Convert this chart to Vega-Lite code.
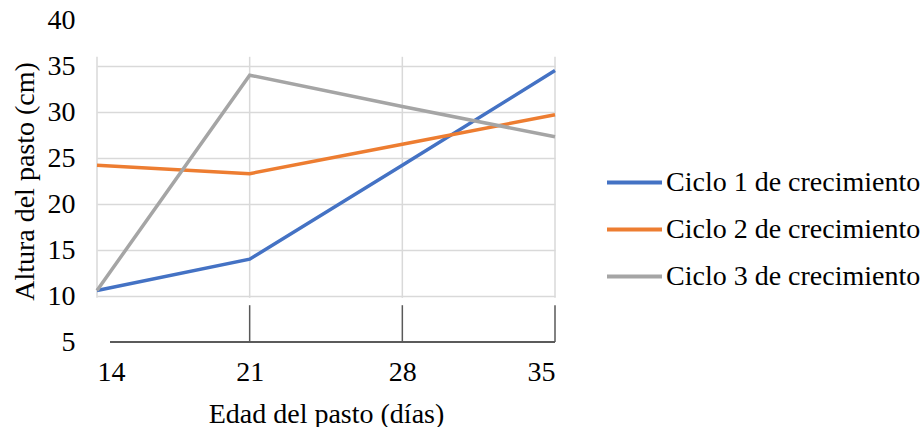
{
  "$schema": "https://vega.github.io/schema/vega-lite/v6.json",
  "width": 458,
  "height": 322,
  "autosize": {"type": "none"},
  "padding": {"left": 97, "top": 20, "right": 369, "bottom": 85},
  "background": "white",
  "config": {
    "font": "Liberation Serif",
    "view": {"stroke": null},
    "axis": {"labelFont": "Liberation Serif", "titleFont": "Liberation Serif", "labelFontSize": 28, "titleFontSize": 28, "titleFontWeight": "normal", "labelColor": "#000000", "titleColor": "#000000"}
  },
  "datasets": {
    "series": [
      {"dia": 14, "altura": 10.6, "ciclo": "Ciclo 1 de crecimiento"},
      {"dia": 21, "altura": 14.0, "ciclo": "Ciclo 1 de crecimiento"},
      {"dia": 28, "altura": 24.2, "ciclo": "Ciclo 1 de crecimiento"},
      {"dia": 35, "altura": 34.5, "ciclo": "Ciclo 1 de crecimiento"},
      {"dia": 14, "altura": 24.2, "ciclo": "Ciclo 2 de crecimiento"},
      {"dia": 21, "altura": 23.3, "ciclo": "Ciclo 2 de crecimiento"},
      {"dia": 28, "altura": 26.5, "ciclo": "Ciclo 2 de crecimiento"},
      {"dia": 35, "altura": 29.7, "ciclo": "Ciclo 2 de crecimiento"},
      {"dia": 14, "altura": 10.6, "ciclo": "Ciclo 3 de crecimiento"},
      {"dia": 21, "altura": 34.0, "ciclo": "Ciclo 3 de crecimiento"},
      {"dia": 28, "altura": 30.6, "ciclo": "Ciclo 3 de crecimiento"},
      {"dia": 35, "altura": 27.3, "ciclo": "Ciclo 3 de crecimiento"}
    ],
    "cortes": [{"dia": 14}, {"dia": 21}, {"dia": 28}, {"dia": 35}],
    "marcas": [{"dia": 21}, {"dia": 28}, {"dia": 35}]
  },
  "layer": [
    {
      "data": {"name": "cortes"},
      "mark": {"type": "rule", "color": "#d9d9d9", "strokeWidth": 1.5},
      "encoding": {
        "x": {"field": "dia", "type": "quantitative", "scale": {"domain": [14, 35], "nice": false, "zero": false}, "title": "Edad del pasto (días)"},
        "y": {"datum": 36, "type": "quantitative", "scale": {"domain": [5, 40], "nice": false, "zero": false}, "title": "Altura del pasto (cm)"},
        "y2": {"datum": 9.8}
      }
    },
    {
      "data": {"name": "marcas"},
      "mark": {"type": "rule", "color": "#595959", "strokeWidth": 1.5},
      "encoding": {
        "x": {"field": "dia", "type": "quantitative", "title": "Edad del pasto (días)"},
        "y": {"datum": 5, "type": "quantitative", "title": "Altura del pasto (cm)"},
        "y2": {"datum": 9}
      }
    },
    {
      "data": {"name": "marcas"},
      "mark": {"type": "rule", "color": "#595959", "strokeWidth": 1.5},
      "encoding": {
        "x": {"datum": 14.6, "type": "quantitative", "title": "Edad del pasto (días)"},
        "x2": {"datum": 35},
        "y": {"datum": 5, "type": "quantitative", "title": "Altura del pasto (cm)"}
      }
    },
    {
      "data": {"name": "series"},
      "mark": {"type": "line", "strokeWidth": 3.5},
      "encoding": {
        "x": {
          "field": "dia", "type": "quantitative", "title": "Edad del pasto (días)",
          "axis": {"values": [14, 21, 28, 35], "domain": false, "ticks": false, "grid": false, "labelPadding": 16, "titlePadding": 14}
        },
        "y": {
          "field": "altura", "type": "quantitative", "title": "Altura del pasto (cm)",
          "axis": {
            "values": [5, 10, 15, 20, 25, 30, 35, 40], "domain": false, "ticks": false, "labelPadding": 22, "titlePadding": 8,
            "grid": true, "gridColor": "#d9d9d9", "gridWidth": 1.5,
            "gridOpacity": {"condition": {"test": "datum.value < 10 || datum.value > 35", "value": 0}, "value": 1}
          }
        },
        "color": {
          "field": "ciclo", "type": "nominal",
          "scale": {"domain": ["Ciclo 1 de crecimiento", "Ciclo 2 de crecimiento", "Ciclo 3 de crecimiento"], "range": ["#4472C4", "#ED7D31", "#A5A5A5"]},
          "legend": {
            "orient": "none", "legendX": 508, "legendY": 133, "title": null, "padding": 0,
            "symbolType": "stroke", "symbolSize": 3025, "symbolStrokeWidth": 4,
            "labelFontSize": 28, "labelFont": "Liberation Serif", "labelColor": "#000000", "labelOffset": 2, "labelLimit": 0, "rowPadding": 3,
            "encode": {
              "symbols": {
                "update": {
                  "stroke": {"signal": "datum.value === 'Ciclo 3 de crecimiento' ? '#666666' : scale('color', datum.value)"}
                }
              }
            }
          }
        }
      }
    }
  ]
}
